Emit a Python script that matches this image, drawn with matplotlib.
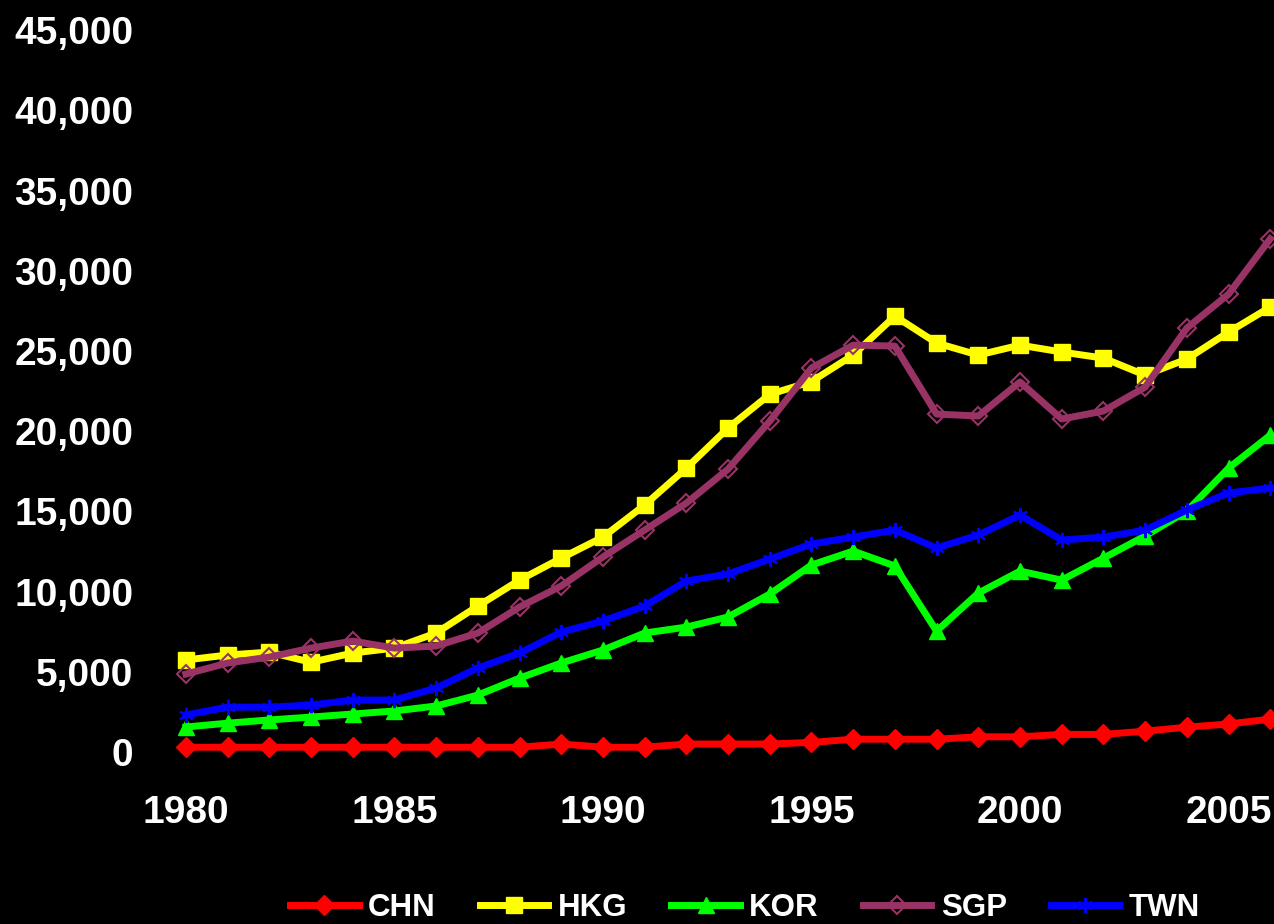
import matplotlib.pyplot as plt
from matplotlib.ticker import FuncFormatter

plt.rcParams.update({
    'figure.facecolor': 'black',
    'axes.facecolor': 'black',
    'text.color': 'white',
    'xtick.color': 'white',
    'ytick.color': 'white',
    'font.family': ['Liberation Sans', 'DejaVu Sans'],
    'font.weight': 'bold',
})

# ── Data ──────────────────────────────────────────────────────
years = list(range(1980, 2007))

chn = [300, 300, 300, 300, 300, 300, 300, 300, 300, 500, 300, 300, 500, 500,
       500, 600, 800, 800, 800, 950, 950, 1100, 1100, 1300, 1550, 1750, 2050]
hkg = [5740, 6050, 6230, 5600, 6170, 6480, 7420, 9100, 10720, 12090, 13400,
       15400, 17700, 20200, 22300, 23100, 24750, 27180, 25500, 24750, 25370,
       24940, 24560, 23500, 24500, 26180, 27740]
kor = [1560, 1800, 2000, 2180, 2370, 2560, 2870, 3550, 4610, 5550, 6360,
       7420, 7790, 8420, 9850, 11660, 12530, 11600, 7540, 9910, 11280,
       10720, 12090, 13470, 15020, 17700, 19760]
sgp = [4860, 5550, 5920, 6480, 6920, 6480, 6610, 7420, 9040, 10350, 12160,
       13840, 15520, 17640, 20630, 23940, 25370, 25310, 21070, 20950, 23070,
       20760, 21260, 22750, 26430, 28550, 32000]
twn = [2310, 2800, 2800, 2930, 3240, 3240, 3990, 5240, 6170, 7480, 8170,
       9100, 10660, 11100, 12030, 12970, 13400, 13840, 12720, 13530, 14770,
       13220, 13400, 13840, 15090, 16150, 16460]

y_ticks = list(range(0, 45001, 5000))
x_ticks = [1980, 1985, 1990, 1995, 2000, 2005]

fig = plt.figure(figsize=(12.74, 9.24), dpi=100)
ax = fig.add_axes([150 / 1274, 1 - 770 / 924, 1 - 150 / 1274, 750 / 924])

lw = 5
ax.plot(years, chn, color='#ff0000', lw=lw, marker='D', ms=10, label='CHN', clip_on=False)
ax.plot(years, hkg, color='#ffff00', lw=lw, marker='s', ms=11, label='HKG')
ax.plot(years, kor, color='#00ff00', lw=lw, marker='^', ms=12, label='KOR')
ax.plot(years, sgp, color='#993366', lw=lw, marker='D', ms=9, mfc='none',
        mec='#993366', mew=1.5, label='SGP')
ax.plot(years, twn, color='#0000ff', lw=lw, marker=(6, 2, 0), ms=11,
        mec='#0000ff', mew=1.5, label='TWN')

ax.set_xlim(1979.14, 2006.09)
ax.set_ylim(-1120, 45640)
ax.set_xticks(x_ticks)
ax.set_yticks(y_ticks)
ax.yaxis.set_major_formatter(FuncFormatter(lambda v, p: f'{int(v):,}'))
ax.tick_params(axis='both', length=0, labelsize=28)
ax.tick_params(axis='x', pad=18)
ax.tick_params(axis='y', pad=12)
for s in ax.spines.values():
    s.set_visible(False)

fig.legend(loc='center', bbox_to_anchor=(745 / 1274, 1 - 908 / 924), ncol=5,
           frameon=False, fontsize=22.5, handlelength=2.2, handletextpad=0.3,
           columnspacing=1.4)

fig.savefig('out.png', dpi=100, facecolor='black')
